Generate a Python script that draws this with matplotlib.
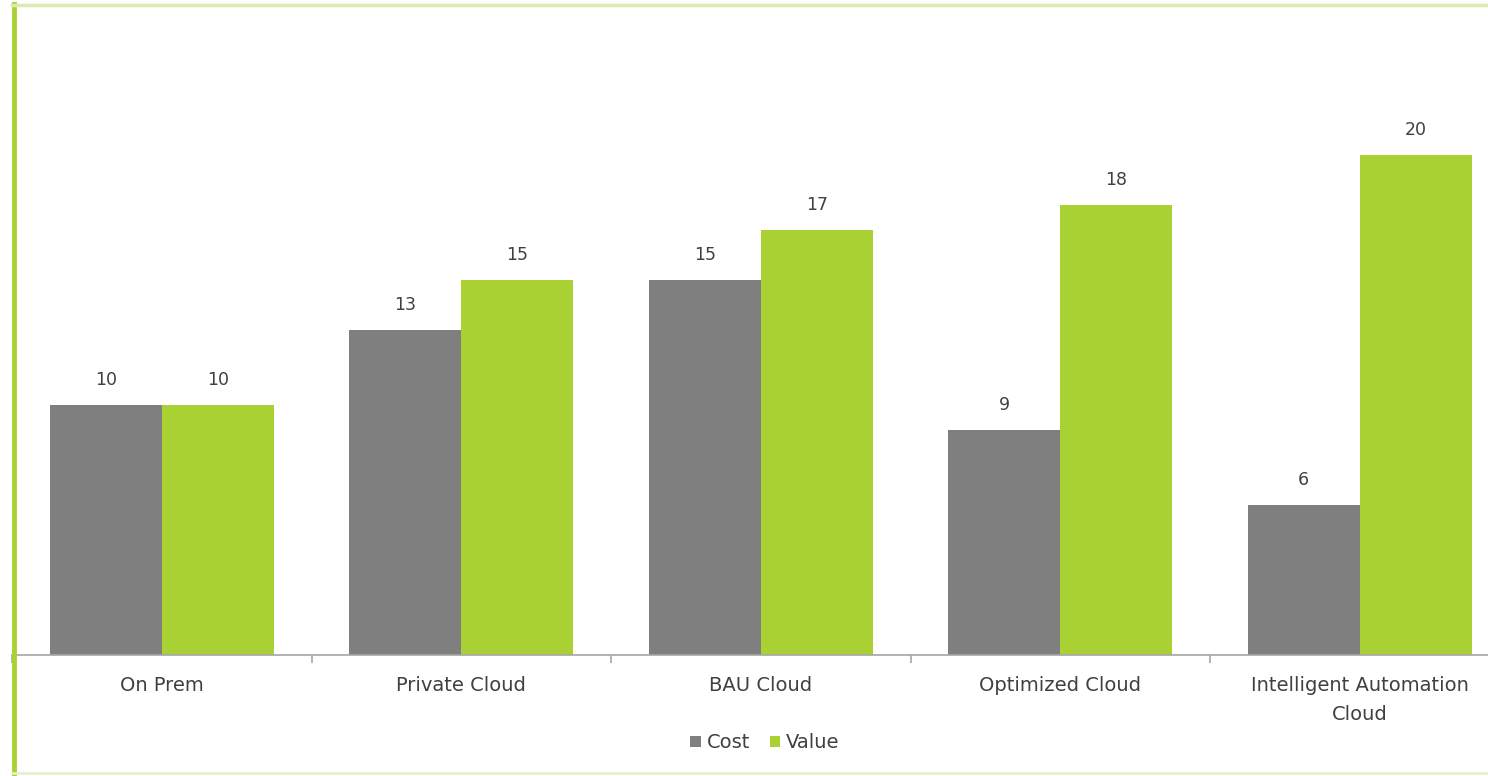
import matplotlib
matplotlib.use("Agg")
import matplotlib.pyplot as plt
from matplotlib.patches import Patch
from matplotlib.lines import Line2D
import numpy as np

categories = ["On Prem", "Private Cloud", "BAU Cloud", "Optimized Cloud", "Intelligent Automation\nCloud"]
cost = [10, 13, 15, 9, 6]
value = [10, 15, 17, 18, 20]

W, H = 1488, 776
fig = plt.figure(figsize=(W / 100, H / 100), dpi=100)
plt.rcParams['font.family'] = ['DejaVu Sans']

gray = '#7f7f7f'
green = '#a9d133'
txt = '#404040'

# axes: left at x=12, baseline y=655, top y=5
left_px, base_px, top_px = 12, 655, 5
cat_w = 299.5
ax = fig.add_axes([left_px / W, 1 - base_px / H, (W - left_px) / W, (base_px - top_px) / H])

x = np.arange(len(categories))
bw = 0.374
b1 = ax.bar(x - bw / 2, cost, bw, color=gray, label='Cost')
b2 = ax.bar(x + bw / 2, value, bw, color=green, label='Value')
for bars in (b1, b2):
    for r in bars:
        ax.annotate(f"{int(r.get_height())}", (r.get_x() + r.get_width() / 2, r.get_height()),
                    xytext=(0, 18), textcoords='offset points', ha='center', va='center',
                    fontsize=12.5, color=txt)

for s in ['top', 'right', 'left']:
    ax.spines[s].set_visible(False)
ax.spines['bottom'].set_color('#a6a6a6')
ax.spines['bottom'].set_linewidth(1.2)
ax.set_yticks([])
ax.set_xticks(x)
ax.set_xticklabels(categories, fontsize=14, color=txt, linespacing=1.65)
ax.tick_params(axis='x', length=0, pad=15)
ax.set_xticks(np.arange(len(categories) + 1) - 0.5, minor=True)
ax.tick_params(axis='x', which='minor', length=6, color='#a6a6a6', width=1.2)
ax.set_xlim(-0.5, -0.5 + (W - left_px) / cat_w)
ax.set_ylim(0, (base_px - top_px) / 25.0)

handles = [Patch(facecolor=gray, label='Cost'), Patch(facecolor=green, label='Value')]
fig.legend(handles=handles, loc='center', bbox_to_anchor=(765 / W, 1 - 743 / H), ncol=2,
           frameon=False, fontsize=14, handlelength=0.55, handleheight=0.55, handletextpad=0.3,
           columnspacing=1.0, labelcolor=txt)

# border lines
fig.add_artist(Line2D([13.5 / W, 13.5 / W], [0, 1 - 4 / H], color=green, lw=3.5, transform=fig.transFigure))
fig.add_artist(Line2D([12 / W, 1], [1 - 5 / H, 1 - 5 / H], color='#d8ebb0', lw=2.5, transform=fig.transFigure))
fig.add_artist(Line2D([12 / W, 1], [1 - 773 / H, 1 - 773 / H], color='#e6f1cc', lw=2, transform=fig.transFigure))

fig.savefig('out.png', dpi=100)
